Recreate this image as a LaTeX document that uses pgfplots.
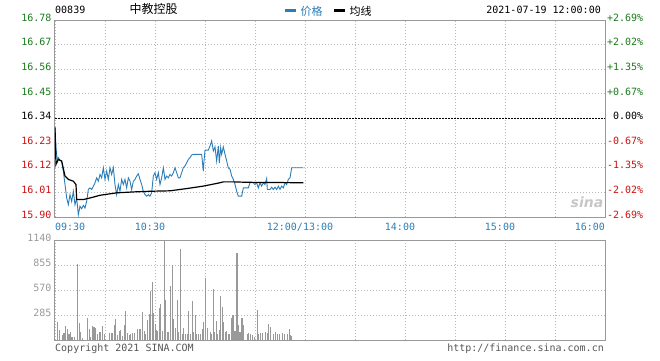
\documentclass[border=0pt]{standalone}
\usepackage{fontspec}
\setmainfont{DejaVu Sans Mono}
\newfontfamily\cjk{Noto Sans CJK SC}
\newfontfamily\logofont{DejaVu Sans}
\usepackage{pgfplots}
\pgfplotsset{compat=1.18}
\definecolor{pricec}{HTML}{2A7DB8}
\definecolor{timec}{HTML}{2A80B9}
\definecolor{upc}{HTML}{1A7A1A}
\definecolor{dnc}{HTML}{CC1111}
\definecolor{gridc}{HTML}{B8B8B8}
\definecolor{framec}{HTML}{999999}
\definecolor{volc}{HTML}{999999}
\definecolor{footc}{HTML}{555555}
\begin{document}
\begin{tikzpicture}[font=\fontsize{10}{12}\selectfont]
\useasboundingbox (0,0) rectangle (660pt,360pt);
% ---------- price panel ----------
\begin{axis}[
  at={(55pt,143pt)}, anchor=south west, scale only axis,
  width=550pt, height=197pt,
  xmin=0, xmax=330, ymin=15.90, ymax=16.78,
  xtick={0,30,...,330},
  ytick={15.90,16.01,16.12,16.23,16.34,16.45,16.56,16.67,16.78},
  grid=major,
  major grid style={gridc, dash pattern=on 1pt off 2pt, line width=0.8pt},
  major tick length=0pt,
  axis line style={framec, line width=1pt},
  ticklabel style={font=\fontsize{10}{12}\selectfont},
  xticklabels={\rlap{\hspace*{5pt}09:30},,10:30,,,12:00/13:00,,14:00,,15:00,,\llap{16:00\hspace*{-5pt}}},
  xticklabel style={text=timec, xshift=-5pt, yshift=-3pt},
  yticklabels={\textcolor{dnc}{\raisebox{-2.5pt}{15.90}},\textcolor{dnc}{16.01},\textcolor{dnc}{16.12},\textcolor{dnc}{16.23},\textcolor{black}{16.34},\textcolor{upc}{16.45},\textcolor{upc}{16.56},\textcolor{upc}{16.67},\textcolor{upc}{16.78}},
  yticklabel style={yshift=2.5pt},
]
\addplot[black, line width=0.9pt, dash pattern=on 2pt off 1pt] coordinates {(0,16.34) (330,16.34)};
\addplot[pricec, line width=0.9pt] coordinates {
(0,16.300)(0.6,16.210)(1.4,16.150)(2,16.165)(3,16.153)(4,16.150)(5,16.105)(6,16.045)(7,15.985)(8,15.955)(9,16.000)(10,15.970)(11,16.015)(12,15.955)(13,15.985)(14,15.910)(15,15.948)(16,15.937)(17,15.952)(18,15.940)(19,15.970)(20,16.023)(21,16.030)(22,16.023)(23,16.038)(24,16.053)(25,16.075)(26,16.060)(27,16.090)(28,16.075)(29,16.120)(30,16.068)(31,16.105)(32,16.068)(33,16.120)(34,16.090)(35,16.120)(36,16.045)(37,16.000)(38,16.045)(39,16.015)(40,16.068)(41,16.045)(42,16.068)(43,16.030)(44,16.075)(45,16.060)(46,16.023)(47,16.060)(48,16.068)(49,16.083)(50,16.093)(51,16.068)(52,16.045)(53,16.015)(54,16.000)(55,15.993)(56,16.000)(57,15.993)(58,16.008)(59,16.083)(60,16.098)(61,16.068)(62,16.098)(63,16.045)(64,16.075)(65,16.120)(66,16.068)(67,16.083)(68,16.075)(69,16.090)(70,16.083)(71,16.098)(72,16.120)(73,16.098)(74,16.075)(75,16.075)(76,16.098)(77,16.120)(78,16.128)(79,16.142)(80,16.157)(81,16.165)(82,16.177)(83,16.180)(88,16.180)(89,16.105)(89.4,16.150)(90,16.199)(92,16.199)(93,16.217)(94,16.240)(95,16.195)(96,16.213)(97,16.150)(98,16.217)(98.6,16.142)(99.4,16.210)(100,16.180)(101,16.213)(102,16.180)(103,16.150)(104,16.120)(105,16.113)(106,16.083)(107,16.068)(108,16.045)(109,16.015)(110,15.993)(112,15.993)(113,16.030)(116,16.030)(117,16.053)(119,16.053)(120,16.045)(121,16.053)(122,16.030)(123,16.053)(124,16.038)(125,16.053)(126,16.045)(127,16.072)(127.4,16.023)(129,16.023)(130,16.033)(131,16.023)(132,16.033)(133,16.023)(134,16.038)(135,16.023)(136,16.038)(137,16.030)(138,16.053)(139,16.045)(140,16.068)(141,16.075)(142,16.120)(149,16.120)};
\addplot[black, line width=1.2pt] coordinates {
(0,16.300)(0.6,16.135)(2,16.157)(4,16.150)(6,16.083)(8,16.068)(11,16.060)(12.6,16.045)(13,15.978)(17,15.978)(21,15.985)(27,15.997)(37,16.008)(47,16.012)(57,16.015)(69,16.017)(79,16.027)(89,16.038)(99,16.053)(101,16.057)(107,16.057)(115,16.055)(149,16.053)};
\end{axis}
% ---------- right percentage labels ----------
\begin{axis}[
  at={(55pt,143pt)}, anchor=south west, scale only axis,
  width=550pt, height=197pt,
  xmin=0, xmax=330, ymin=15.90, ymax=16.78,
  hide x axis, axis line style={draw=none},
  major tick length=0pt,
  yticklabel pos=right,
  ytick={15.90,16.01,16.12,16.23,16.34,16.45,16.56,16.67,16.78},
  ticklabel style={font=\fontsize{10}{12}\selectfont},
  yticklabels={\textcolor{dnc}{\raisebox{-2.5pt}{-2.69\%}},\textcolor{dnc}{-2.02\%},\textcolor{dnc}{-1.35\%},\textcolor{dnc}{-0.67\%},\textcolor{black}{\hphantom{+}0.00\%},\textcolor{upc}{+0.67\%},\textcolor{upc}{+1.35\%},\textcolor{upc}{+2.02\%},\textcolor{upc}{+2.69\%}},
  yticklabel style={yshift=2.5pt, xshift=-1.5pt},
]
\addplot[draw=none] coordinates {(0,16.34)};
\end{axis}
% ---------- volume panel ----------
\begin{axis}[
  at={(55pt,20pt)}, anchor=south west, scale only axis,
  width=550pt, height=100pt,
  xmin=0, xmax=330, ymin=0, ymax=1140,
  xtick={0,30,...,330}, xticklabels={},
  ytick={0,285,570,855,1140},
  yticklabels={,285,570,855,1140},
  grid=major,
  major grid style={gridc, dash pattern=on 1pt off 2pt, line width=0.8pt},
  major tick length=0pt,
  axis line style={framec, line width=1pt},
  ticklabel style={font=\fontsize{10}{12}\selectfont},
  yticklabel style={text=volc, yshift=2.5pt},
]
\addplot[ycomb, volc, line width=1.2pt, no marks] coordinates {
(1.4,210)(2.6,115)(4.4,57)(5.4,84)(6.4,161)(7.4,126)(8.4,69)(9.2,92)(10.2,31)(11.6,38)(13.4,861)(14.6,191)(15.2,96)(16.4,27)(19.4,249)(20.6,126)(21.2,38)(22.4,161)(23.4,149)(24.2,142)(25.4,69)(26.6,92)(27.2,92)(28.4,161)(29.6,65)(32.6,84)(33.8,77)(34.4,77)(35.6,172)(36.2,237)(37.4,61)(38.6,103)(39.2,115)(40.4,46)(41.6,172)(42.2,333)(43.4,84)(44.6,57)(45.2,69)(46.4,84)(47.6,77)(49.4,122)(50.6,122)(51.2,130)(52.4,314)(53.6,103)(54.2,69)(55.4,230)(56.6,298)(57.2,562)(58.4,662)(59,306)(60.2,180)(60.8,115)(61.4,107)(62.6,363)(63.2,413)(64.4,103)(65.6,1140)(66.2,459)(67.4,92)(68,92)(69.2,620)(70.4,853)(71,237)(72.2,134)(73.4,459)(74,96)(75.2,1033)(76.4,69)(77,142)(78.2,69)(79.4,69)(80,333)(81.2,69)(82.4,448)(83,96)(84.2,287)(84.8,69)(86,69)(87.2,69)(88.4,126)(89,207)(90.2,708)(91.4,142)(93.2,96)(93.8,69)(95,585)(95.6,96)(96.8,222)(97.4,69)(98.6,115)(99.2,497)(100.4,371)(101,210)(102.2,96)(102.8,107)(104,69)(104.6,69)(106.2,256)(106.8,287)(108,107)(109.2,987)(109.8,172)(111,96)(112.2,256)(112.8,172)(115.4,69)(116,77)(117.2,69)(118.4,57)(119.6,31)(121.4,344)(122,69)(123.2,84)(124.4,77)(126.2,96)(127.4,77)(128,184)(129.2,153)(131,69)(132.2,96)(133.4,69)(134.6,69)(136.4,84)(137.6,69)(139.4,69)(140.6,126)(141.2,57)(142,50)};
\end{axis}
% ---------- header ----------
\node[anchor=west, inner sep=0pt] at (55pt,350.5pt) {00839};
\node[inner sep=0pt] at (153.5pt,351pt) {\cjk\fontsize{12}{14}\selectfont 中教控股};
\node[anchor=west, inner sep=0pt] at (285pt,349pt) {\textcolor{pricec}{\rule[3pt]{11pt}{3pt}}\hspace{4.5pt}\textcolor{pricec}{\cjk\fontsize{11}{13}\selectfont 价格}};
\node[anchor=west, inner sep=0pt] at (334pt,349pt) {\textcolor{black}{\rule[3pt]{11pt}{3pt}}\hspace{4.5pt}{\cjk\fontsize{11}{13}\selectfont 均线}};
\node[anchor=east, inner sep=0pt] at (601pt,350.5pt) {2021-07-19 12:00:00};
% ---------- footer ----------
\node[anchor=west, inner sep=0pt, text=footc] at (55pt,11pt) {Copyright 2021 SINA.COM};
\node[anchor=east, inner sep=0pt, text=footc] at (604pt,11pt) {http://finance.sina.com.cn};
% ---------- watermark ----------
\node[inner sep=0pt, text=black!22] at (587pt,158pt) {\logofont\bfseries\itshape\fontsize{14}{16}\selectfont sina};
\end{tikzpicture}
\end{document}
